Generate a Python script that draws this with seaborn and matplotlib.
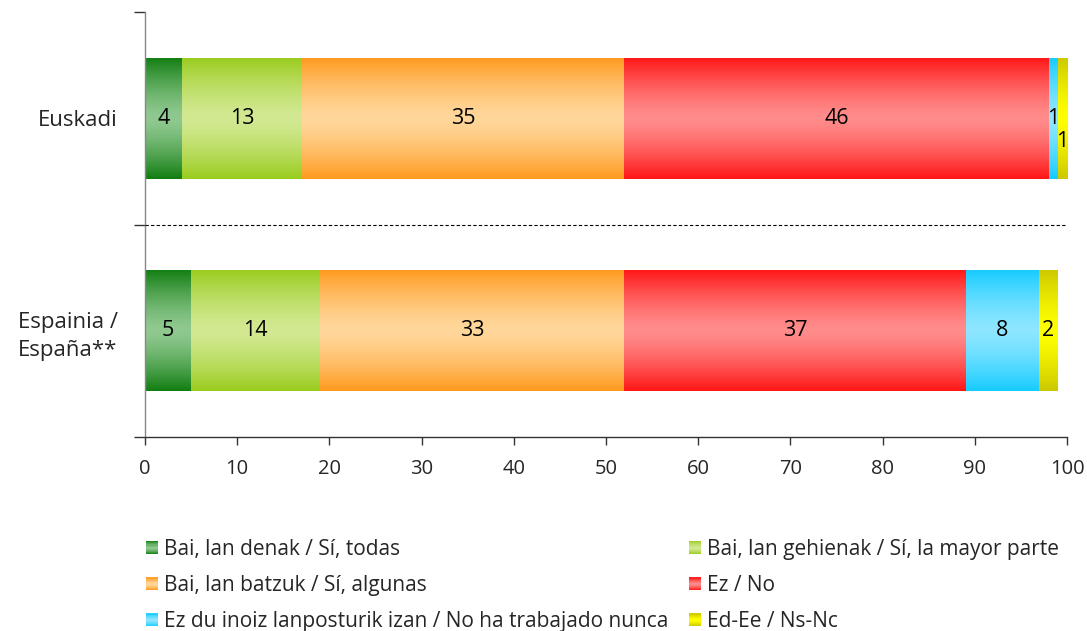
import numpy as np
import pandas as pd
import matplotlib
matplotlib.use("Agg")
import matplotlib.pyplot as plt
import seaborn as sns
from matplotlib.colors import to_rgb
from matplotlib.legend_handler import HandlerBase
from matplotlib.patches import Rectangle, Patch

# ---------------- data ----------------
categories = ["Euskadi", "Espainia /\nEspaña**"]
series_names = [
    "Bai, lan denak / Sí, todas",
    "Bai, lan gehienak / Sí, la mayor parte",
    "Bai, lan batzuk / Sí, algunas",
    "Ez / No",
    "Ez du inoiz lanposturik izan / No ha trabajado nunca",
    "Ed-Ee / Ns-Nc",
]
v_denak = [4, 5]
v_gehienak = [13, 14]
v_batzuk = [35, 33]
v_ez = [46, 37]
v_inoiz = [1, 8]
v_edee = [1, 2]
x_ticks = [0, 10, 20, 30, 40, 50, 60, 70, 80, 90, 100]

series_values = [v_denak, v_gehienak, v_batzuk, v_ez, v_inoiz, v_edee]

# ---------------- style ----------------
edge_colors = ["#127E12", "#9ACC1E", "#FF9A1E", "#FF1616", "#16CCFF", "#CCC800"]
center_colors = ["#90C990", "#D2E992", "#FFD79B", "#FF8C8C", "#8EE6FF", "#FFFF00"]

sns.set_theme(style="white")
FONT = ["Open Sans", "DejaVu Sans"]
plt.rcParams["font.family"] = FONT
FS_BIG = 16
FS_BAR = 15.5
FS_TICK = 14.5
FS_LEG = 15

fig = plt.figure(figsize=(10.87, 6.31), dpi=100)
ax = fig.add_axes([145 / 1087, 1 - 437 / 631, 922 / 1087, 425 / 631])


def grad_color(edge, center, u, p=1.4):
    e = np.array(to_rgb(edge))
    c = np.array(to_rgb(center))
    t = abs(2 * u - 1) ** p
    return c * (1 - t) + e * t


rows = []
for name, vals in zip(series_names, series_values):
    for cat, v in zip(categories, vals):
        rows.append({"category": cat, "series": name, "value": v})
df = pd.DataFrame(rows)

left = np.zeros(len(categories))
for k, name in enumerate(series_names):
    sub = df[df["series"] == name]
    n_before = len(ax.patches)
    sns.barplot(data=sub, x="value", y="category", order=categories,
                orient="h", color=edge_colors[k], width=0.57,
                left=left.copy(), ax=ax, saturation=1, edgecolor="none",
                linewidth=0)
    new_patches = ax.patches[n_before:]
    for patch in new_patches:
        bb = patch.get_bbox()
        x0, x1 = bb.x0, bb.x1
        y0, y1 = bb.y0, bb.y1
        u = np.linspace(0, 1, 128)
        img = np.array([grad_color(edge_colors[k], center_colors[k], uu) for uu in u])
        img = img[:, None, :]
        im = ax.imshow(img, extent=(x0, x1, y0, y1), aspect="auto",
                       origin="lower", zorder=patch.get_zorder() + 0.1,
                       interpolation="bilinear")
        im.set_clip_path(patch)
    vals = sub.set_index("category").loc[categories, "value"].to_numpy()
    for i, v in enumerate(vals):
        dy = 0.0
        if k == 5 and i == 0:
            dy = 0.11
        ax.text(left[i] + v / 2, i + dy, f"{v}", ha="center", va="center",
                fontsize=FS_BAR, color="black", zorder=10)
    left = left + vals

ax.set_xlim(0, 100)
ax.set_ylim(1.5, -0.5)
ax.axhline(0.5, color="black", linestyle=(0, (3, 2)), linewidth=0.8, zorder=5)

ax.set_xticks(x_ticks)
ax.set_xticklabels([str(t) for t in x_ticks], fontsize=FS_TICK)
ax.set_yticks([0, 1])
ax.set_yticklabels(categories, fontsize=FS_BIG, linespacing=1.45)
for lbl in ax.get_yticklabels():
    lbl.set_multialignment("center")
ax.set_yticks([-0.5, 0.5, 1.5], minor=True)
ax.tick_params(axis="y", which="major", length=0, pad=19.5)
ax.tick_params(axis="y", which="minor", length=8, width=1, color="#333333",
               direction="out", left=True)
ax.tick_params(axis="x", which="major", length=6, width=1, color="#333333",
               direction="out", bottom=True, pad=10)
ax.set_xlabel("")
ax.set_ylabel("")
for s in ["top", "right"]:
    ax.spines[s].set_visible(False)
ax.spines["left"].set_color("#888888")
ax.spines["bottom"].set_color("#333333")
ax.spines["left"].set_linewidth(1)
ax.spines["bottom"].set_linewidth(1)


class GradHandler(HandlerBase):
    def __init__(self, edge, center):
        super().__init__()
        self.edge = edge
        self.center = center

    def create_artists(self, legend, orig_handle, xdescent, ydescent,
                       width, height, fontsize, trans):
        n = 12
        arts = []
        for j in range(n):
            u = (j + 0.5) / n
            r = Rectangle((-xdescent, -ydescent + height * j / n), width,
                          height / n + 0.2,
                          facecolor=grad_color(self.edge, self.center, u),
                          edgecolor="none", transform=trans)
            arts.append(r)
        return arts


handles = [Patch(facecolor=edge_colors[k], label=series_names[k]) for k in range(6)]
hmap = {h: GradHandler(edge_colors[k], center_colors[k]) for k, h in enumerate(handles)}
order = [0, 2, 4, 1, 3, 5]
fig.legend([handles[i] for i in order], [series_names[i] for i in order],
           handler_map=hmap, loc="upper left",
           bbox_to_anchor=(146 / 1087, 1 - 539 / 631), ncol=2, frameon=False,
           fontsize=FS_LEG, handlelength=0.57, handleheight=0.57,
           handletextpad=0.3, columnspacing=1.0, labelspacing=0.73,
           borderpad=0, borderaxespad=0)

fig.savefig("out.png", dpi=100)
